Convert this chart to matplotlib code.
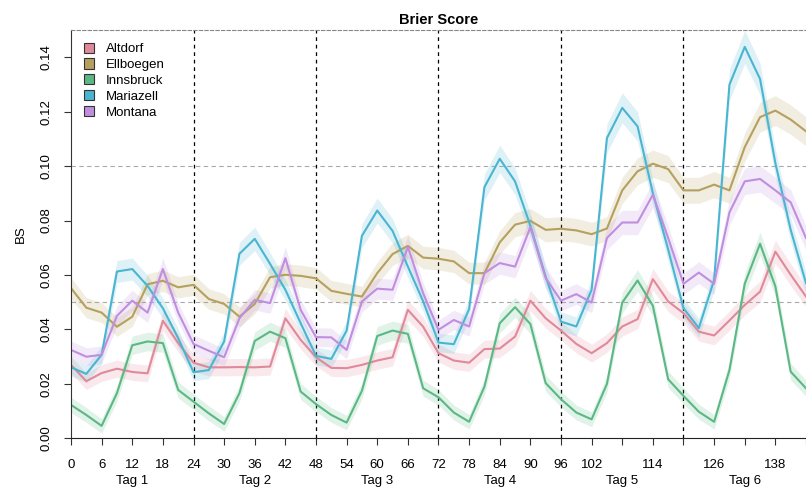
import numpy as np
import matplotlib
matplotlib.use("Agg")
import matplotlib.pyplot as plt
from matplotlib.patches import Patch

plt.rcParams['font.family'] = ['Liberation Sans', 'DejaVu Sans']

hours = np.arange(0, 145, 3)

stations = ["Altdorf", "Ellboegen", "Innsbruck", "Mariazell", "Montana"]
colors = ["#E0899B", "#B5A05E", "#5BB884", "#4AB5D0", "#C08EDF"]

altdorf = [0.027, 0.021, 0.024, 0.0256, 0.0244, 0.0239, 0.0432, 0.035, 0.0278,
           0.0261, 0.0261, 0.0262, 0.0261, 0.0264, 0.0441, 0.0362, 0.0298,
           0.0259, 0.0258, 0.027, 0.0286, 0.0298, 0.0472, 0.041, 0.0313,
           0.0286, 0.0278, 0.0328, 0.033, 0.0374, 0.0506, 0.0441, 0.0396,
           0.0347, 0.0313, 0.035, 0.0411, 0.0438, 0.0585, 0.0503, 0.046,
           0.0392, 0.0378, 0.0433, 0.049, 0.0539, 0.0686, 0.0601, 0.0521]
ellboegen = [0.0552, 0.048, 0.0462, 0.041, 0.0447, 0.0566, 0.0579, 0.0555, 0.0564,
             0.0512, 0.0494, 0.0447, 0.0494, 0.0592, 0.0601, 0.0597, 0.0588,
             0.0542, 0.0531, 0.0521, 0.0607, 0.0677, 0.0707, 0.0664, 0.066,
             0.065, 0.0607, 0.0607, 0.072, 0.0785, 0.0799, 0.0766, 0.077,
             0.0764, 0.075, 0.0771, 0.0911, 0.0981, 0.1009, 0.0989, 0.0911,
             0.0911, 0.0932, 0.0911, 0.107, 0.118, 0.1204, 0.1171, 0.1128]
innsbruck = [0.0123, 0.0086, 0.0046, 0.0166, 0.0342, 0.0356, 0.035, 0.0178, 0.0135,
             0.0092, 0.0053, 0.0166, 0.0358, 0.0392, 0.0368, 0.0172, 0.0126,
             0.0086, 0.0058, 0.0175, 0.0376, 0.0396, 0.0384, 0.0184, 0.0151,
             0.0095, 0.0061, 0.019, 0.0423, 0.0482, 0.042, 0.0203, 0.0144,
             0.0095, 0.007, 0.02, 0.0499, 0.058, 0.0487, 0.0217, 0.0156,
             0.0098, 0.0061, 0.0251, 0.0568, 0.0715, 0.0558, 0.0245, 0.0184]
mariazell = [0.0261, 0.0237, 0.0307, 0.0613, 0.0622, 0.056, 0.0478, 0.0368, 0.0243,
             0.0251, 0.0356, 0.0678, 0.0733, 0.0641, 0.0546, 0.0423, 0.0303,
             0.0292, 0.0396, 0.0744, 0.0837, 0.0762, 0.0631, 0.0503, 0.0352,
             0.0346, 0.0475, 0.0923, 0.1027, 0.0944, 0.0781, 0.0594, 0.0429,
             0.0411, 0.0546, 0.1103, 0.1214, 0.1146, 0.0901, 0.0693, 0.0478,
             0.0405, 0.0582, 0.1299, 0.1438, 0.132, 0.1011, 0.0766, 0.057]
montana = [0.0325, 0.030, 0.0307, 0.045, 0.0506, 0.0462, 0.0622, 0.0462, 0.0347,
           0.0322, 0.0298, 0.0441, 0.0509, 0.0497, 0.0662, 0.0472, 0.0372,
           0.0371, 0.0325, 0.0503, 0.055, 0.0546, 0.0703, 0.0533, 0.0399,
           0.0435, 0.0411, 0.0607, 0.0644, 0.0631, 0.0776, 0.0589, 0.0506,
           0.053, 0.0499, 0.0736, 0.0793, 0.0793, 0.0895, 0.0736, 0.0568,
           0.0609, 0.0568, 0.083, 0.0944, 0.0953, 0.0911, 0.0867, 0.0736]

series = [altdorf, ellboegen, innsbruck, mariazell, montana]

day_labels = ["Tag 1", "Tag 2", "Tag 3", "Tag 4", "Tag 5", "Tag 6"]
tick_hours = np.arange(0, 145, 6)
shown_ticks = [0, 6, 12, 18, 24, 30, 36, 42, 48, 54, 60, 66, 72, 78, 84, 90, 96, 102, 114, 126, 138]

fig = plt.figure(figsize=(8.06, 4.88), dpi=100)
ax = fig.add_axes([71 / 806, 1 - 438.4 / 488, 1 - 71 / 806, (438.4 - 30) / 488])

for name, vals, col in zip(stations, series, colors):
    v = np.array(vals)
    hw = 0.0025 + 0.025 * v  # rough band width
    ax.fill_between(hours, v - hw, v + hw, color=col, alpha=0.18, lw=0)
    ax.plot(hours, v, color=col, lw=1.5)

ax.set_xlim(0, 144)
ax.set_ylim(0, 0.15)

for y in [0.05, 0.10]:
    ax.axhline(y, color="#aaaaaa", lw=0.8, ls=(0, (4, 3)), zorder=0)
for x in [24, 48, 72, 96, 120]:
    ax.axvline(x, color="black", lw=0.9, ls=(0, (3, 3)), zorder=0)

ax.spines['right'].set_visible(False)
ax.spines['top'].set_color("#888888")
ax.spines['top'].set_linestyle((0, (3, 2)))
ax.spines['left'].set_color("#333333")
ax.spines['bottom'].set_color("#222222")

ax.set_yticks(np.arange(0, 0.141, 0.02))
ax.set_yticklabels(["%.2f" % t for t in np.arange(0, 0.141, 0.02)], rotation=90, va="center", fontsize=9.5)
ax.set_xticks(tick_hours)
ax.set_xticklabels([str(t) if t in shown_ticks else "" for t in tick_hours], fontsize=9.5)
ax.tick_params(axis='both', length=5, width=0.8, color="#333333")
ax.tick_params(axis='x', pad=10)
ax.tick_params(axis='y', pad=8)

for i, lab in enumerate(day_labels):
    ax.text(12 + 24 * i, -0.0155, lab, ha="center", va="center", fontsize=9.5, clip_on=False)

ax.set_ylabel("BS", fontsize=9.5, labelpad=10)
ax.set_title("Brier Score", fontweight="bold", fontsize=10.5, pad=4)

handles = [Patch(facecolor=c, edgecolor="#333333", lw=0.8) for c in colors]
ax.legend(handles, stations, loc="upper left", frameon=False, fontsize=9.5,
          handlelength=0.8, handleheight=0.8, labelspacing=0.25, handletextpad=0.9,
          borderaxespad=0.55)

fig.savefig("out.png", dpi=100)
